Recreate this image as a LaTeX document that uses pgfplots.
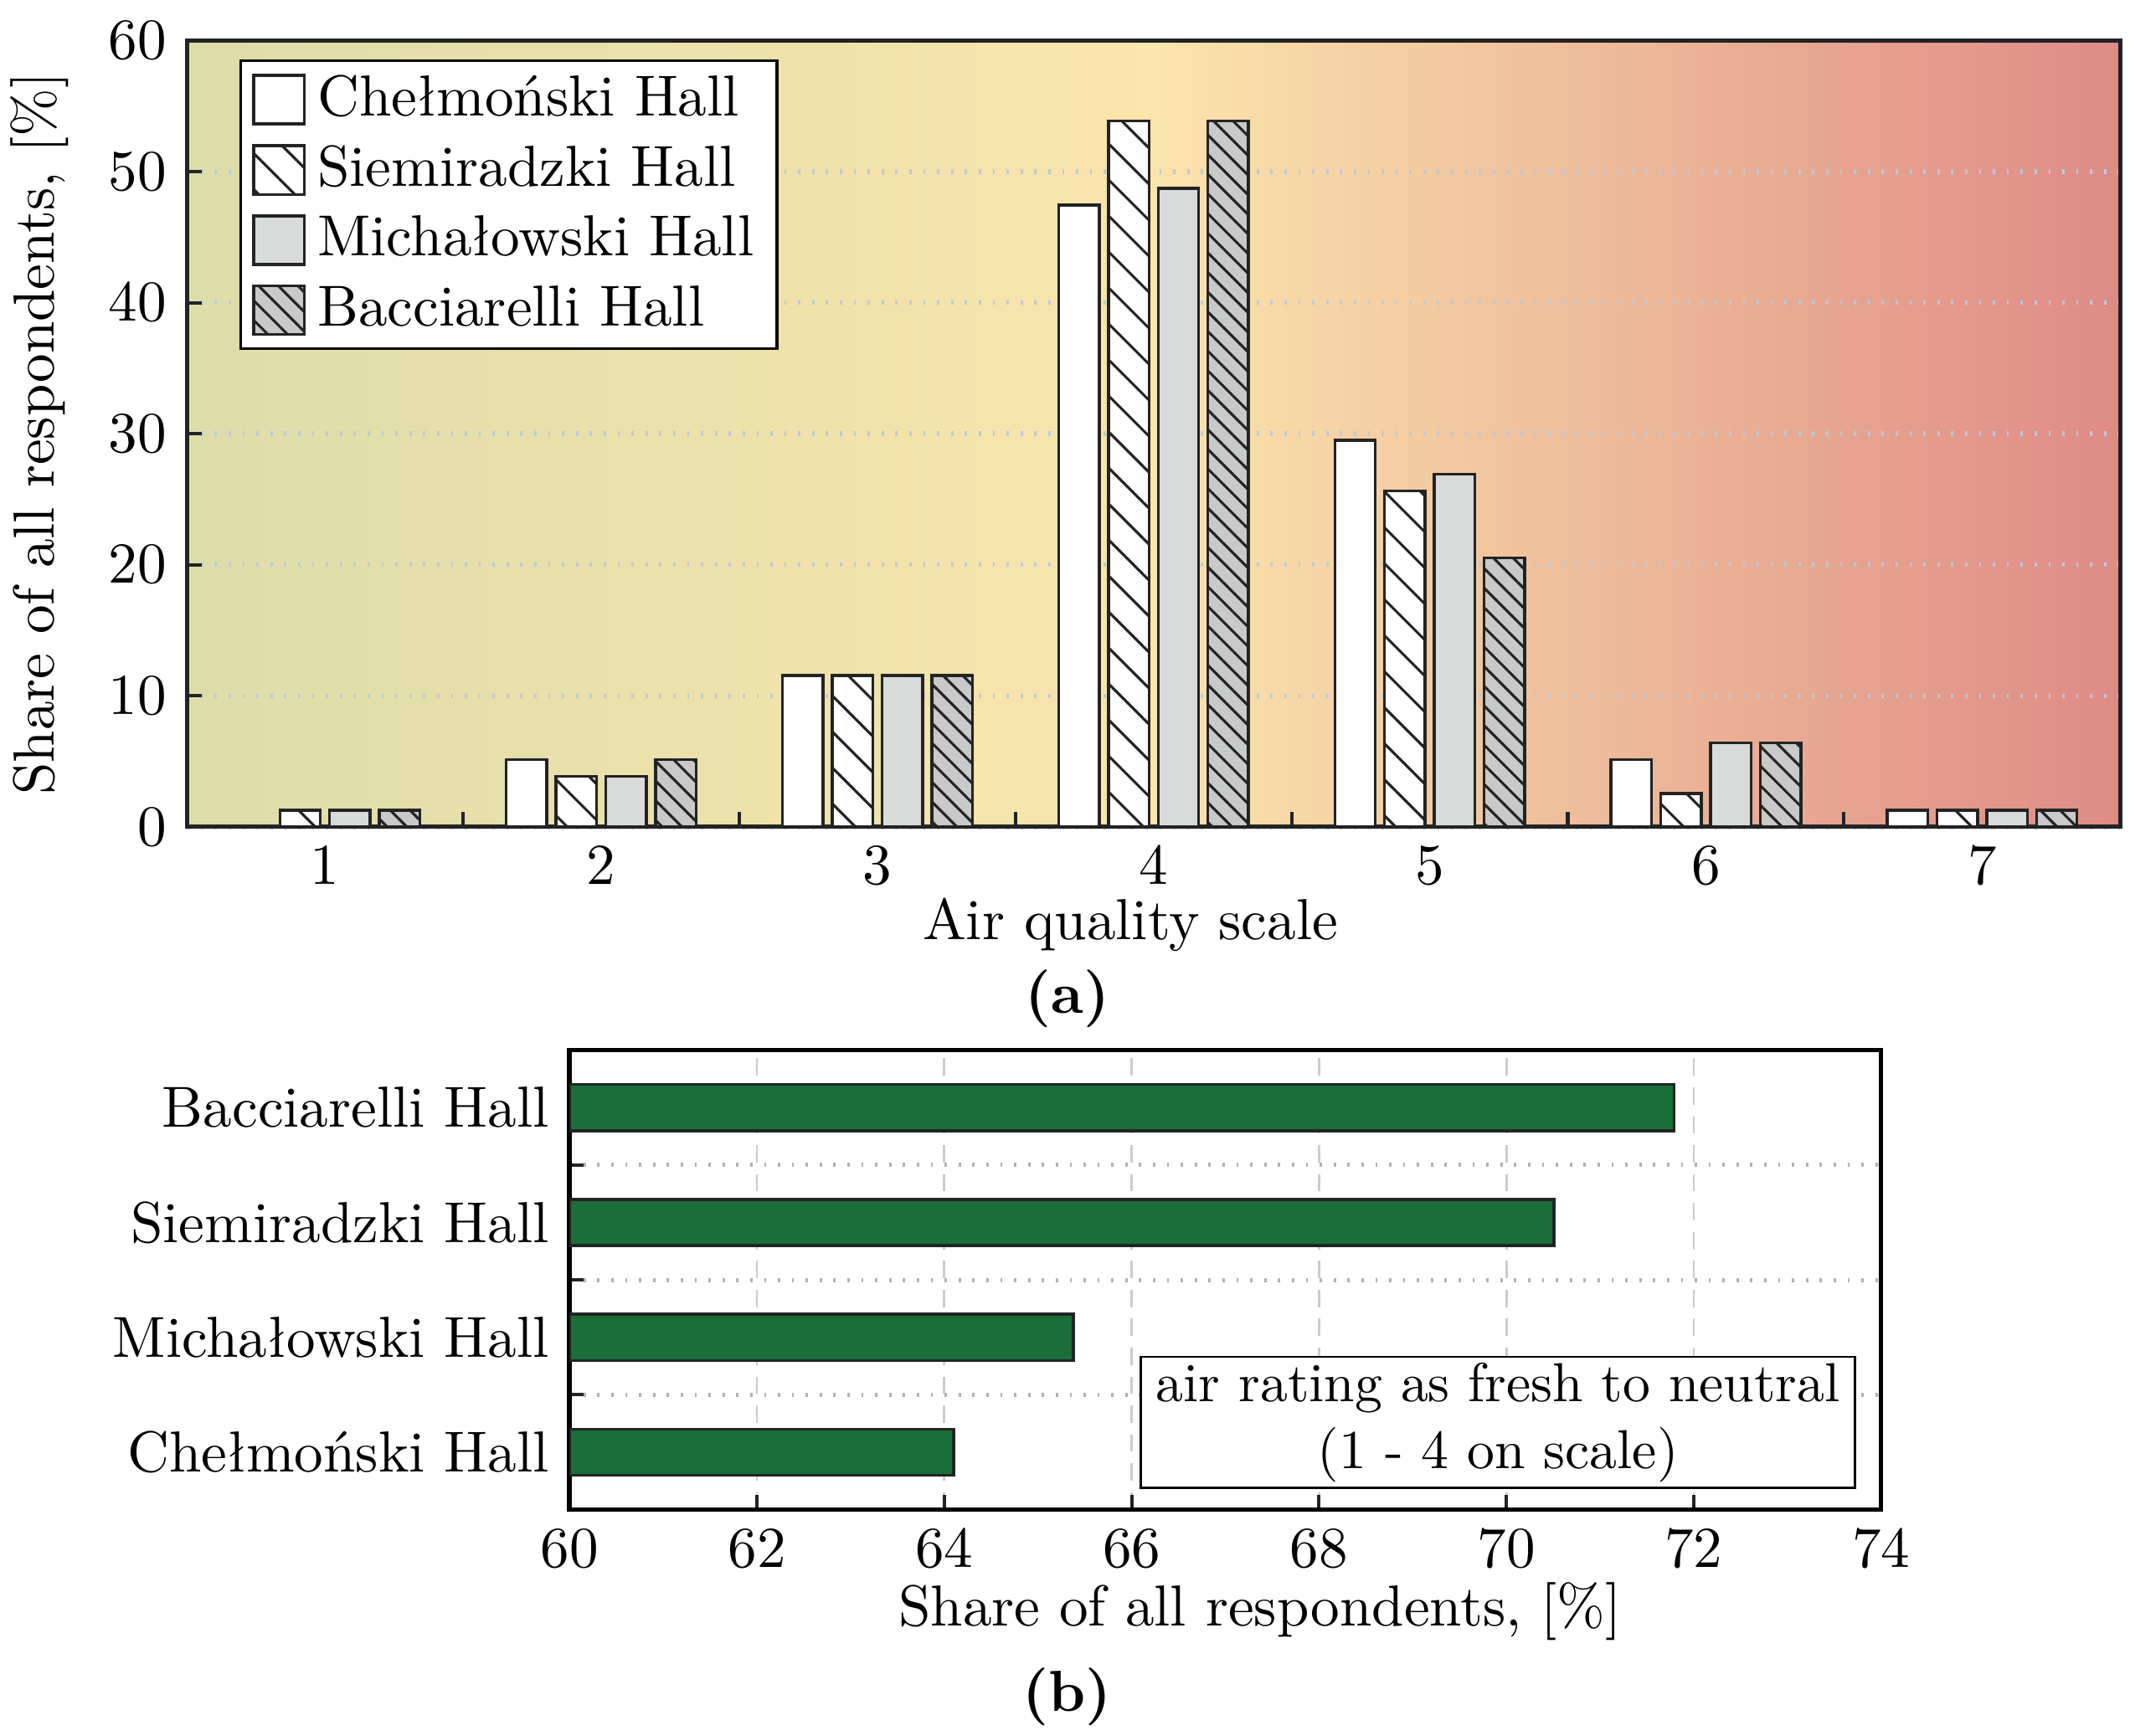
\documentclass[border=0pt]{standalone}
\usepackage{pgfplots}
\pgfplotsset{compat=1.18}
\usetikzlibrary{patterns.meta}
\definecolor{bgL}{RGB}{221,221,170}
\definecolor{bgM}{RGB}{250,229,172}
\definecolor{bgR}{RGB}{223,138,134}
\definecolor{gridc}{RGB}{190,200,215}
\definecolor{grayA}{RGB}{217,219,219}
\definecolor{grayB}{RGB}{200,202,202}
\definecolor{barGreen}{RGB}{26,110,55}
\definecolor{edge}{RGB}{35,35,35}
\tikzset{
  hatchWide/.style={postaction={pattern={Lines[angle=-45,distance=4.4pt,line width=0.45pt]},pattern color=edge}},
  hatchDense/.style={postaction={pattern={Lines[angle=-45,distance=2.4pt,line width=0.45pt]},pattern color=edge}},
}
\begin{document}
\begin{tikzpicture}
\path[use as bounding box] (0,0) rectangle (368pt,300pt);
\begin{axis}[
  at={(32.3pt,157.1pt)}, anchor=south west,
  scale only axis, width=334pt, height=135.9pt,
  xmin=0.5, xmax=7.5, ymin=0, ymax=60,
  ybar=1.6pt, bar width=7pt,
  xtick={1,...,7}, minor xtick={1.5,2.5,...,6.5},
  major x tick style={draw=none},
  ytick={0,10,...,60},
  xtick pos=bottom, ytick pos=left, tick align=inside,
  major tick length=2.6pt, minor tick length=2.6pt,
  tick style={line width=0.6pt, edge},
  ymajorgrids, major grid style={dotted, gridc, line width=0.8pt},
  axis background/.style={left color=bgL, right color=bgR, middle color=bgM},
  axis line style={line width=0.7pt, edge},
  every axis plot/.append style={draw=edge, line width=0.5pt},
  xlabel={Air quality scale}, ylabel={Share of all respondents, [\%]},
  xlabel style={yshift=4.5pt, xshift=-4pt},
  ylabel style={yshift=0pt},
  legend style={at={(0.027,0.976)}, anchor=north west, draw=black, line width=0.5pt,
    fill=white, inner xsep=2pt, inner ysep=0.4pt, row sep=-0.35pt,
    font=\normalsize},
  legend cell align=left,
  legend image code/.code={\draw[#1] (0pt,-4.2pt) rectangle (8.8pt,4.2pt);},
]
\addplot[fill=white] coordinates {(1,0) (2,5.13) (3,11.54) (4,47.44) (5,29.49) (6,5.13) (7,1.28)};
\addplot[fill=white, hatchWide] coordinates {(1,1.28) (2,3.85) (3,11.54) (4,53.85) (5,25.64) (6,2.56) (7,1.28)};
\addplot[fill=grayA] coordinates {(1,1.28) (2,3.85) (3,11.54) (4,48.72) (5,26.92) (6,6.41) (7,1.28)};
\addplot[fill=grayB, hatchDense] coordinates {(1,1.28) (2,5.13) (3,11.54) (4,53.85) (5,20.51) (6,6.41) (7,1.28)};
\legend{Chełmoński Hall, Siemiradzki Hall, Michałowski Hall, Bacciarelli Hall}
\end{axis}
\node[font=\bfseries] at (184.4pt,127.4pt) {(a)};
\begin{axis}[
  at={(98.4pt,39.1pt)}, anchor=south west,
  scale only axis, width=226.6pt, height=79.4pt,
  xbar, bar width=8pt,
  xmin=60, xmax=74, ymin=-0.5, ymax=3.5,
  xtick={60,62,...,74},
  ytick={0,1,2,3},
  yticklabels={Chełmoński Hall, Michałowski Hall, Siemiradzki Hall, Bacciarelli Hall},
  minor ytick={0.5,1.5,2.5},
  major y tick style={draw=none},
  xtick pos=bottom, ytick pos=left, tick align=inside,
  major tick length=2.6pt, minor tick length=2.4pt,
  tick style={line width=0.6pt, edge},
  xmajorgrids, yminorgrids,
  major grid style={densely dashed, black!20, line width=0.4pt},
  minor grid style={dotted, black!30, line width=0.7pt},
  axis line style={line width=0.8pt, black},
  xlabel={Share of all respondents, [\%]},
  xlabel style={xshift=6pt, yshift=4.2pt},
]
\addplot[fill=barGreen, draw=edge, line width=0.5pt] coordinates {(64.10,0) (65.38,1) (70.51,2) (71.79,3)};
\node[draw=black, fill=white, align=center, line width=0.4pt, inner xsep=2.6pt, inner ysep=1pt,
  font=\fontsize{9.5}{11.6}\selectfont] at (rel axis cs:0.708,0.19)
  {air rating as fresh to neutral\\(1 - 4 on scale)};
\end{axis}
\node[font=\bfseries] at (184.4pt,6.8pt) {(b)};
\end{tikzpicture}
\end{document}
